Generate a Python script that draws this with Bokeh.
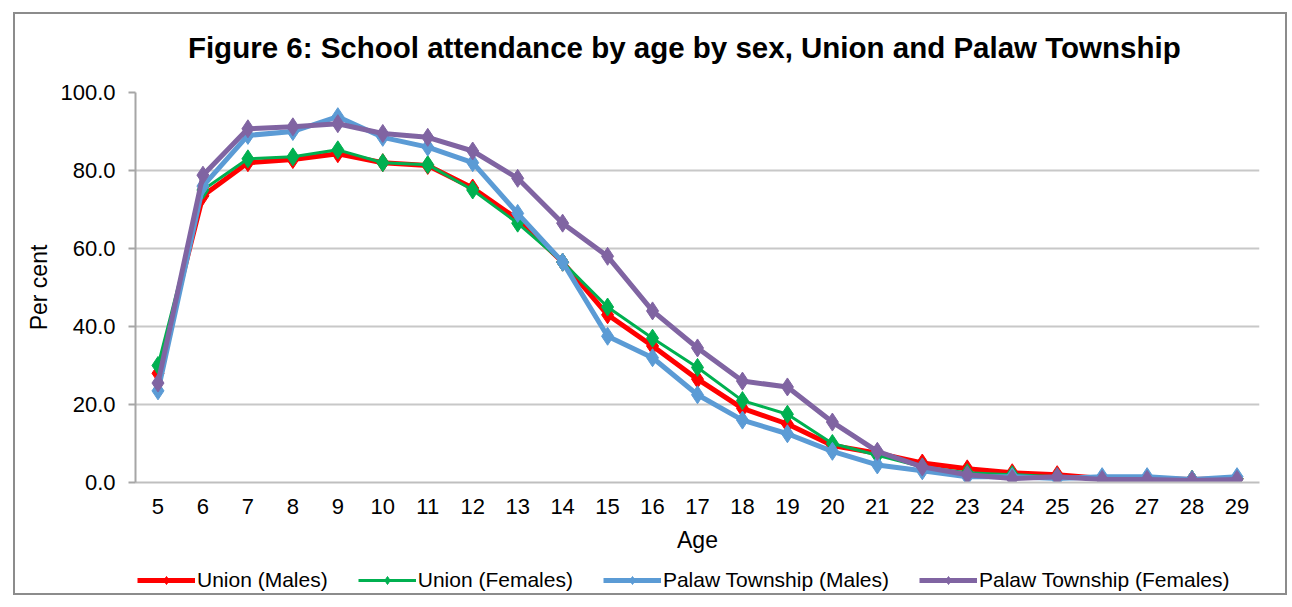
from bokeh.plotting import figure
from bokeh.layouts import column
from bokeh.models import Range1d, FixedTicker, Legend, LegendItem, NumeralTickFormatter, Label
from bokeh.embed import file_html
from bokeh.resources import INLINE

ages = list(range(5, 30))
union_males = [28.0, 73.5, 82.0, 82.8, 84.3, 82.0, 81.3, 75.5, 67.5, 56.5, 43.0, 35.0, 26.5, 19.0, 15.0,
               9.5, 7.5, 5.0, 3.5, 2.5, 2.0, 1.0, 1.0, 0.8, 1.0]
union_females = [30.0, 75.0, 83.0, 83.5, 85.3, 82.0, 81.5, 75.0, 66.5, 56.5, 45.0, 37.0, 29.5, 21.0, 17.5,
                 10.0, 7.0, 4.0, 2.5, 2.0, 1.5, 1.0, 1.0, 0.8, 1.0]
palaw_males = [23.5, 76.0, 89.0, 90.0, 93.8, 88.5, 86.0, 82.0, 69.0, 56.5, 37.5, 32.0, 22.5, 16.0, 12.5,
               8.0, 4.5, 3.0, 1.5, 1.5, 1.0, 1.5, 1.5, 0.8, 1.5]
palaw_females = [25.5, 78.8, 90.7, 91.2, 92.0, 89.5, 88.5, 85.0, 78.0, 66.5, 58.0, 44.0, 34.5, 26.0, 24.5,
                 15.5, 8.0, 4.0, 2.0, 1.0, 1.5, 0.8, 0.8, 0.5, 0.8]

series_values = [union_males, union_females, palaw_males, palaw_females]
series_colors = ["#FF0000", "#00B050", "#5B9BD5", "#8064A2"]
line_widths = [5, 3, 5, 5]
legend_labels = ["Union (Males)", "Union (Females)", "Palaw Township (Males)", "Palaw Township (Females)"]
y_ticks = [0, 20, 40, 60, 80, 100]
title_text = "Figure 6:  School attendance by age by sex, Union and Palaw  Township"

FONT = "Liberation Sans"


def strip(height):
    f = figure(width=1274, height=height, output_backend="svg", toolbar_location=None,
               x_range=Range1d(0, 1), y_range=Range1d(-10, -9),
               x_axis_location=None, y_axis_location=None,
               min_border_left=0, min_border_right=0, min_border_top=0, min_border_bottom=0)
    f.outline_line_color = None
    f.background_fill_color = None
    f.border_fill_color = None
    f.xgrid.grid_line_color = None
    f.ygrid.grid_line_color = None
    return f


# ---------------- title strip ----------------
t = strip(60)
t.add_layout(Label(x=557, y=25, x_units="screen", y_units="screen", text=title_text,
                   text_align="center", text_baseline="middle", text_font=FONT,
                   text_font_style="bold", text_font_size="29.5px", text_color="#000000"))

# ---------------- main chart ----------------
p = figure(width=1274, height=495, output_backend="svg", toolbar_location=None,
           x_range=Range1d(4.5, 29.5), y_range=Range1d(0, 100),
           min_border_left=122, min_border_right=28, min_border_top=20, min_border_bottom=85)
p.outline_line_color = None
p.background_fill_color = "white"
p.border_fill_color = None

for vals, col, lw in zip(series_values, series_colors, line_widths):
    p.line(ages, vals, line_color=col, line_width=lw)
    p.scatter(ages, vals, marker="diamond", size=18, fill_color=col, line_color=col)

p.xaxis.ticker = FixedTicker(ticks=ages)
p.yaxis.ticker = FixedTicker(ticks=y_ticks)
p.yaxis.formatter = NumeralTickFormatter(format="0.0")
for ax in (p.xaxis[0], p.yaxis[0]):
    ax.major_label_text_font = FONT
    ax.major_label_text_font_size = "22px"
    ax.major_label_text_color = "#000000"
    ax.axis_label_text_font = FONT
    ax.axis_label_text_font_size = "23px"
    ax.axis_label_text_font_style = "normal"
    ax.axis_label_text_color = "#000000"
    ax.minor_tick_line_color = None
    ax.major_tick_in = 0
p.xaxis.axis_label = "Age"
p.yaxis.axis_label = "Per cent"
p.xaxis.major_tick_out = 0
p.xaxis.major_label_standoff = 16
p.xaxis.axis_label_standoff = 10
p.xaxis.axis_line_color = "#BFBFBF"
p.xaxis.axis_line_width = 2
p.yaxis.major_tick_out = 7
p.yaxis.major_tick_line_color = "#A6A6A6"
p.yaxis.major_tick_line_width = 2
p.yaxis.major_label_standoff = 13
p.yaxis.axis_label_standoff = 5
p.yaxis.axis_line_color = "#A6A6A6"
p.yaxis.axis_line_width = 2

p.xgrid.grid_line_color = None
p.ygrid.grid_line_color = "#C8C8C8"
p.ygrid.grid_line_width = 2

# ---------------- legend strip (same series, ranges chosen so only the legend shows) ----------------
q = strip(28)
items = []
for vals, col, lw, lab in zip(series_values, series_colors, line_widths, legend_labels):
    r1 = q.line(ages, vals, line_color=col, line_width=lw)
    r2 = q.scatter(ages, vals, marker="diamond", size=18, fill_color=col, line_color=col)
    items.append(LegendItem(label=lab, renderers=[r1, r2]))

legend = Legend(items=items, orientation="horizontal", location=(2, 3),
                glyph_width=58, glyph_height=20, label_standoff=2, spacing=30,
                padding=0, margin=0, border_line_alpha=0, background_fill_alpha=0,
                label_text_font=FONT, label_text_font_size="21px", label_text_color="#000000")
q.add_layout(legend, "center")

layout = column(t, p, q, spacing=0,
                styles={"margin-left": "13px", "margin-top": "12px",
                        "box-shadow": "inset 0 0 0 2px #8C8C8C"})

open("out.html", "w").write(file_html(layout, INLINE))
